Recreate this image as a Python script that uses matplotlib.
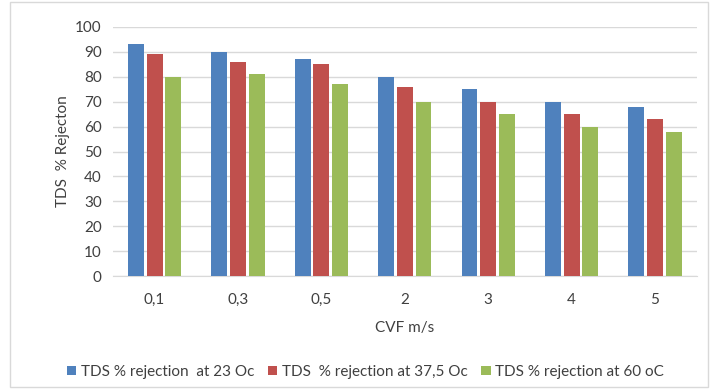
import matplotlib
matplotlib.use("Agg")
import matplotlib.pyplot as plt
import numpy as np
from matplotlib.patches import Rectangle

categories = ["0,1", "0,3", "0,5", "2", "3", "4", "5"]
rej_23 = [93, 90, 87, 80, 75, 70, 68]
rej_375 = [89, 86, 85, 76, 70, 65, 63]
rej_60 = [80, 81, 77, 70, 65, 60, 58]
series_labels = ["TDS % rejection  at 23 Oc", "TDS  % rejection at 37,5 Oc", "TDS % rejection at 60 oC"]
colors = ["#4F81BD", "#C0504D", "#9BBB59"]

plt.rcParams['font.family'] = ['Lato', 'DejaVu Sans']

fig = plt.figure(figsize=(7.19, 3.91), dpi=100)
ax = fig.add_axes([0.157, 0.294, 0.812, 0.637])

x = np.arange(len(categories))
w = 0.19
off = 0.225
for i, (vals, lab, c) in enumerate(zip([rej_23, rej_375, rej_60], series_labels, colors)):
    ax.bar(x + (i - 1) * off, vals, width=w, color=c, label=lab, zorder=3)

ax.set_xlim(-0.5, len(categories) - 0.5)
ax.set_ylim(0, 100)
ax.set_yticks(range(0, 101, 10))
ax.set_xticks(x)
ax.set_xticklabels(categories)
ax.yaxis.grid(True, color="#D9D9D9", linewidth=1, zorder=0)
for s in ["top", "right", "left"]:
    ax.spines[s].set_visible(False)
ax.spines["bottom"].set_color("#D9D9D9")
ax.tick_params(axis="both", length=0, labelsize=11, colors="#404040")
ax.tick_params(axis="x", pad=12)
ax.tick_params(axis="y", pad=8)
ax.set_xlabel("CVF m/s", fontsize=11, color="#404040", labelpad=10)
ax.set_ylabel("TDS  % Rejecton", fontsize=11, color="#404040", labelpad=4)

ax.legend(loc="center", bbox_to_anchor=(0.433, -0.385), ncol=3, frameon=False,
          fontsize=11, handlelength=0.6, handleheight=0.6, handletextpad=0.3,
          columnspacing=0.9, labelcolor="#404040")

fig.patches.append(Rectangle((10 / 719, 0.01), 0.985 - 10 / 719, 0.985, transform=fig.transFigure,
                             fill=False, edgecolor="#D9D9D9", linewidth=1))

fig.savefig("out.png", dpi=100)
